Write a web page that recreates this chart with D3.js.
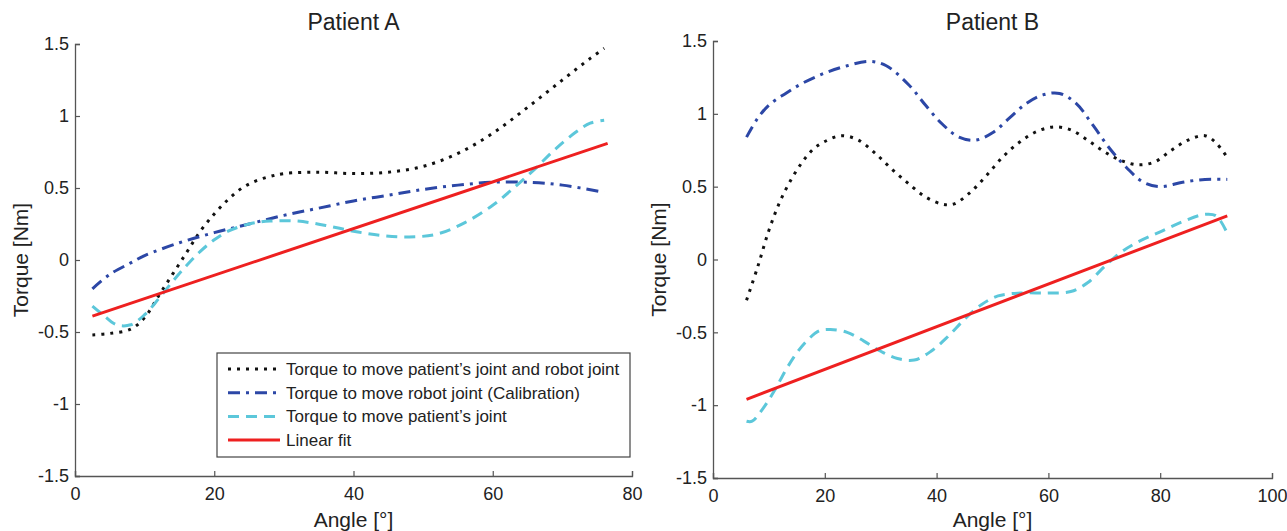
<!DOCTYPE html>
<html>
<head>
<meta charset="utf-8">
<script src="https://cdn.jsdelivr.net/npm/d3@7"></script>
<style>
  body { margin: 0; background: #fff; }
  text { font-family: "Liberation Sans", Arial, sans-serif; fill: #222; }
</style>
</head>
<body>
<div id="chart"></div>
<script>
const width = 1287,
  height = 531;

// Patient A: angle [°] -> torque [Nm]
const anglesA_joint = [2.5, 5, 8, 10, 12, 14, 16, 18, 20, 22, 24, 26, 28, 30, 35, 40, 45, 50, 55, 60, 65, 70, 74, 76];
const torqueA_joint = [-0.52, -0.51, -0.48, -0.4, -0.25, -0.1, 0.05, 0.2, 0.32, 0.42, 0.5, 0.55, 0.58, 0.6, 0.61, 0.6, 0.61, 0.65, 0.74, 0.88, 1.06, 1.25, 1.4, 1.47];
const anglesA_robot = [2.5, 5, 8, 10, 15, 20, 25, 30, 35, 40, 45, 50, 55, 60, 65, 70, 76];
const torqueA_robot = [-0.2, -0.1, -0.02, 0.03, 0.12, 0.19, 0.25, 0.31, 0.36, 0.41, 0.45, 0.49, 0.52, 0.54, 0.54, 0.52, 0.47];
const anglesA_patient = [2.5, 4, 6, 8, 10, 12, 14, 16, 18, 20, 22, 25, 28, 32, 36, 40, 44, 48, 52, 56, 60, 63, 66, 69, 72, 74, 76];
const torqueA_patient = [-0.32, -0.38, -0.45, -0.45, -0.38, -0.27, -0.15, -0.04, 0.06, 0.14, 0.2, 0.25, 0.27, 0.27, 0.24, 0.2, 0.17, 0.16, 0.18, 0.26, 0.38, 0.5, 0.63, 0.77, 0.89, 0.95, 0.97];
const anglesA_fit = [2.5, 76.5];
const torqueA_fit = [-0.39, 0.81];

// Patient B
const anglesB_joint = [6, 8, 10, 12, 14, 16, 18, 20, 23, 26, 29, 32, 35, 38, 41, 43, 46, 49, 52, 55, 58, 61, 64, 67, 70, 73, 76, 79, 82, 85, 88, 90, 92];
const torqueB_joint = [-0.28, -0.05, 0.2, 0.4, 0.55, 0.67, 0.76, 0.81, 0.85, 0.82, 0.73, 0.62, 0.52, 0.43, 0.38, 0.38, 0.46, 0.58, 0.71, 0.81, 0.88, 0.91, 0.89, 0.82, 0.74, 0.68, 0.65, 0.67, 0.75, 0.82, 0.85, 0.8, 0.7];
const anglesB_robot = [6, 8, 10, 13, 16, 20, 24, 28, 31, 35, 38, 41, 44, 47, 50, 53, 56, 59, 62, 65, 68, 71, 74, 77, 80, 84, 88, 92];
const torqueB_robot = [0.84, 0.97, 1.06, 1.14, 1.21, 1.28, 1.33, 1.36, 1.33, 1.2, 1.06, 0.93, 0.84, 0.82, 0.87, 0.97, 1.07, 1.13, 1.14, 1.07, 0.92, 0.76, 0.63, 0.53, 0.5, 0.53, 0.55, 0.55];
const anglesB_patient = [6, 7, 9, 11, 13, 15, 17, 19, 21, 24, 27, 30, 33, 36, 39, 42, 45, 48, 51, 55, 60, 64, 67, 70, 73, 76, 80, 84, 88, 90, 92];
const torqueB_patient = [-1.11, -1.11, -1.02, -0.9, -0.76, -0.64, -0.55, -0.49, -0.48, -0.5, -0.56, -0.63, -0.68, -0.69, -0.63, -0.53, -0.41, -0.31, -0.25, -0.23, -0.23, -0.22, -0.16, -0.05, 0.05, 0.12, 0.19, 0.26, 0.31, 0.3, 0.18];
const anglesB_fit = [6, 92];
const torqueB_fit = [-0.96, 0.3];

const yTicks = [-1.5, -1, -0.5, 0, 0.5, 1, 1.5];
const xTicksA = [0, 20, 40, 60, 80];
const xTicksB = [0, 20, 40, 60, 80, 100];

const legendLabels = [
  "Torque to move patient\u2019s joint and robot joint",
  "Torque to move robot joint (Calibration)",
  "Torque to move patient\u2019s joint",
  "Linear fit",
];

const styles = [
  { color: "#111111", dash: "3,6" },
  { color: "#2c47a6", dash: "12,6,3,6" },
  { color: "#5cc7da", dash: "11,7" },
  { color: "#ee2020", dash: null },
];

const svg = d3
  .select("#chart")
  .append("svg")
  .attr("width", width)
  .attr("height", height);

function zip(xs, ys) {
  return xs.map((x, i) => ({ x: x, y: ys[i] }));
}

function drawPanel(opts) {
  const x = d3.scaleLinear().domain(opts.xDomain).range([opts.left, opts.right]);
  const y = d3.scaleLinear().domain([-1.5, 1.5]).range([opts.bottom, opts.top]);
  const g = svg.append("g");

  const xAxis = d3.axisBottom(x).tickValues(opts.xTicks).tickSize(-5).tickPadding(10).tickFormat(d3.format("d"));
  const yAxis = d3.axisLeft(y).tickValues(yTicks).tickSize(-5).tickPadding(6).tickFormat((d) => String(d));

  const gx = g.append("g").attr("transform", `translate(0,${opts.bottom})`).call(xAxis);
  const gy = g.append("g").attr("transform", `translate(${opts.left},0)`).call(yAxis);
  [gx, gy].forEach((a) => {
    a.select(".domain").attr("stroke", "#555").attr("stroke-width", 1.3);
    a.selectAll(".tick line").attr("stroke", "#555").attr("stroke-width", 1.2);
    a.selectAll(".tick text").style("font-size", "18px").attr("fill", "#222");
  });
  gx.selectAll(".tick text").attr("dy", "0.8em");

  const line = d3
    .line()
    .x((d) => x(d.x))
    .y((d) => y(d.y))
    .curve(d3.curveCatmullRom.alpha(0.5));

  opts.series.forEach((s, i) => {
    g.append("path")
      .datum(zip(s[0], s[1]))
      .attr("fill", "none")
      .attr("stroke", styles[i].color)
      .attr("stroke-width", 3)
      .attr("stroke-dasharray", styles[i].dash)
      .attr("d", line);
  });

  g.append("text")
    .attr("x", (opts.left + opts.right) / 2)
    .attr("y", 30)
    .attr("text-anchor", "middle")
    .style("font-size", "23px")
    .text(opts.title);

  g.append("text")
    .attr("x", (opts.left + opts.right) / 2)
    .attr("y", 527)
    .attr("text-anchor", "middle")
    .style("font-size", "21px")
    .text("Angle [\u00b0]");

  g.append("text")
    .attr("transform", `translate(${opts.left - 47},${(opts.top + opts.bottom) / 2}) rotate(-90)`)
    .attr("text-anchor", "middle")
    .style("font-size", "21px")
    .text("Torque [Nm]");

  return { x, y, g };
}

drawPanel({
  title: "Patient A",
  xDomain: [0, 80],
  xTicks: xTicksA,
  left: 75,
  right: 632,
  top: 44,
  bottom: 476,
  series: [
    [anglesA_joint, torqueA_joint],
    [anglesA_robot, torqueA_robot],
    [anglesA_patient, torqueA_patient],
    [anglesA_fit, torqueA_fit],
  ],
});

drawPanel({
  title: "Patient B",
  xDomain: [0, 100],
  xTicks: xTicksB,
  left: 713,
  right: 1272,
  top: 41,
  bottom: 478,
  series: [
    [anglesB_joint, torqueB_joint],
    [anglesB_robot, torqueB_robot],
    [anglesB_patient, torqueB_patient],
    [anglesB_fit, torqueB_fit],
  ],
});

// legend inside Patient A
const legend = svg.append("g").attr("transform", "translate(217,353)");
legend
  .append("rect")
  .attr("width", 413)
  .attr("height", 104)
  .attr("fill", "#fff")
  .attr("stroke", "#444")
  .attr("stroke-width", 1.2);

legendLabels.forEach((label, i) => {
  const ly = 16 + i * 23.7;
  legend
    .append("line")
    .attr("x1", 11)
    .attr("x2", 63)
    .attr("y1", ly)
    .attr("y2", ly)
    .attr("stroke", styles[i].color)
    .attr("stroke-width", 3)
    .attr("stroke-dasharray", styles[i].dash);
  legend
    .append("text")
    .attr("x", 69)
    .attr("y", ly)
    .attr("dy", "0.35em")
    .style("font-size", "17px")
    .text(label);
});
</script>
</body>
</html>
